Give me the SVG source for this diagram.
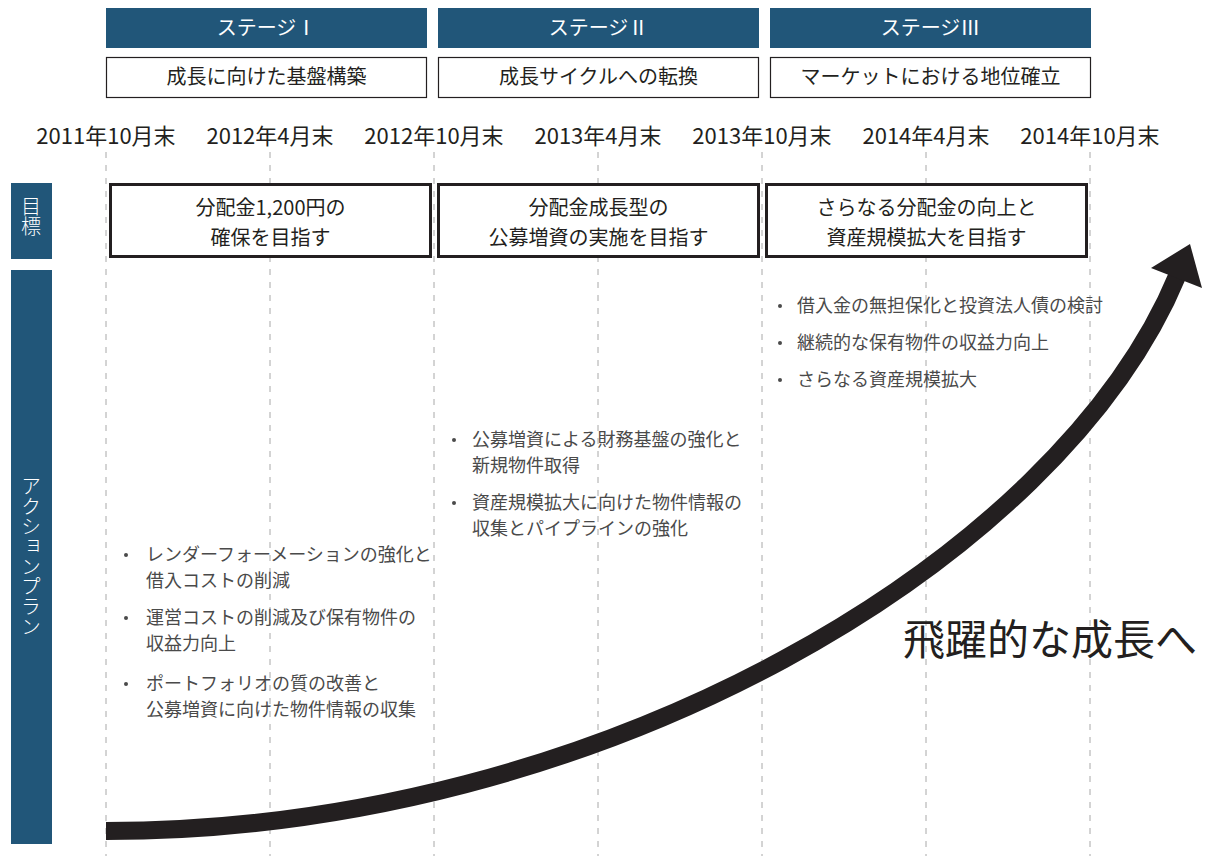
<svg xmlns="http://www.w3.org/2000/svg" width="1205" height="856" viewBox="0 0 1205 856">
<style>
text{font-family:"Noto Sans CJK JP","Noto Sans",sans-serif;}
.hdr{fill:#215679;}
.hdrt{fill:#fff;font-size:20px;text-anchor:middle;}
.sub{fill:#fff;stroke:#231f20;stroke-width:1.2;}
.subt{fill:#231f20;font-size:20px;text-anchor:middle;}
.date{fill:#231f20;font-size:22px;text-anchor:middle;}
.grid{stroke:#a8a8a8;stroke-width:1;stroke-dasharray:6 7;}
.goal{fill:#fff;stroke:#231f20;stroke-width:3;}
.goalt{fill:#231f20;font-size:20px;text-anchor:middle;}
.side{fill:#215679;}
.sidet{fill:#fff;font-size:20px;font-weight:300;writing-mode:vertical-rl;text-orientation:upright;}
.item{fill:#4a4a4a;font-size:18px;}
.dot{fill:#4a4a4a;}
</style>
<rect width="1205" height="856" fill="#fff"/>
<g id="grid">
<line class="grid" x1="106" y1="152" x2="106" y2="856"/>
<line class="grid" x1="270" y1="152" x2="270" y2="856"/>
<line class="grid" x1="434" y1="152" x2="434" y2="856"/>
<line class="grid" x1="598" y1="152" x2="598" y2="856"/>
<line class="grid" x1="762" y1="152" x2="762" y2="856"/>
<line class="grid" x1="926" y1="152" x2="926" y2="856"/>
<line class="grid" x1="1090" y1="152" x2="1090" y2="856"/>
</g>
<g id="stage1">
<rect class="hdr" x="106" y="8" width="321" height="40"/>
<text class="hdrt" x="266.5" y="35">ステージⅠ</text>
<rect class="sub" x="106.5" y="57.5" width="320" height="40"/>
<text class="subt" x="266.5" y="84">成長に向けた基盤構築</text>
</g>
<g id="stage2">
<rect class="hdr" x="438" y="8" width="321" height="40"/>
<text class="hdrt" x="598.5" y="35">ステージⅡ</text>
<rect class="sub" x="438.5" y="57.5" width="320" height="40"/>
<text class="subt" x="598.5" y="84">成長サイクルへの転換</text>
</g>
<g id="stage3">
<rect class="hdr" x="770" y="8" width="321" height="40"/>
<text class="hdrt" x="930.5" y="35">ステージⅢ</text>
<rect class="sub" x="770.5" y="57.5" width="320" height="40"/>
<text class="subt" x="930.5" y="84">マーケットにおける地位確立</text>
</g>
<g id="dates">
<text class="date" x="106" y="144">2011年10月末</text>
<text class="date" x="270" y="144">2012年4月末</text>
<text class="date" x="434" y="144">2012年10月末</text>
<text class="date" x="598" y="144">2013年4月末</text>
<text class="date" x="762" y="144">2013年10月末</text>
<text class="date" x="926" y="144">2014年4月末</text>
<text class="date" x="1090" y="144">2014年10月末</text>
</g>
<g id="side-goal">
<rect class="side" x="11" y="183" width="41" height="76"/>
<text class="sidet" x="31" y="196">目標</text>
</g>
<g id="side-action">
<rect class="side" x="11" y="270" width="41" height="574"/>
<text class="sidet" x="31" y="476">アクションプラン</text>
</g>
<g id="goal1">
<rect class="goal" x="110.5" y="184.5" width="320" height="72"/>
<text class="goalt" x="270.5" y="215">分配金1,200円の</text>
<text class="goalt" x="270.5" y="245">確保を目指す</text>
</g>
<g id="goal2">
<rect class="goal" x="438.5" y="184.5" width="320" height="72"/>
<text class="goalt" x="598.5" y="215">分配金成長型の</text>
<text class="goalt" x="598.5" y="245">公募増資の実施を目指す</text>
</g>
<g id="goal3">
<rect class="goal" x="766.5" y="184.5" width="320" height="72"/>
<text class="goalt" x="926.5" y="215">さらなる分配金の向上と</text>
<text class="goalt" x="926.5" y="245">資産規模拡大を目指す</text>
</g>
<g id="connectors">
<path d="M106,831 C600,831 1060,560 1178,274" fill="none" stroke="#231f20" stroke-width="18"/>
<polygon points="1190,244 1151,268 1202,288" fill="#231f20"/>
</g>
<g id="actions1">
<circle class="dot" cx="126" cy="555" r="2"/>
<text class="item" x="146" y="561">レンダーフォーメーションの強化と</text>
<text class="item" x="146" y="587">借入コストの削減</text>
<circle class="dot" cx="126" cy="618" r="2"/>
<text class="item" x="146" y="624">運営コストの削減及び保有物件の</text>
<text class="item" x="146" y="650">収益力向上</text>
<circle class="dot" cx="126" cy="684" r="2"/>
<text class="item" x="146" y="690">ポートフォリオの質の改善と</text>
<text class="item" x="146" y="716">公募増資に向けた物件情報の収集</text>
</g>
<g id="actions2">
<circle class="dot" cx="454" cy="440" r="2"/>
<text class="item" x="472" y="446">公募増資による財務基盤の強化と</text>
<text class="item" x="472" y="472">新規物件取得</text>
<circle class="dot" cx="454" cy="503" r="2"/>
<text class="item" x="472" y="509">資産規模拡大に向けた物件情報の</text>
<text class="item" x="472" y="535">収集とパイプラインの強化</text>
</g>
<g id="actions3">
<circle class="dot" cx="780" cy="306" r="2"/>
<text class="item" x="797" y="312">借入金の無担保化と投資法人債の検討</text>
<circle class="dot" cx="780" cy="343" r="2"/>
<text class="item" x="797" y="349">継続的な保有物件の収益力向上</text>
<circle class="dot" cx="780" cy="380" r="2"/>
<text class="item" x="797" y="386">さらなる資産規模拡大</text>
</g>
<g id="headline">
<text x="903" y="655" fill="#231f20" font-size="42">飛躍的な成長へ</text>
</g>
</svg>
